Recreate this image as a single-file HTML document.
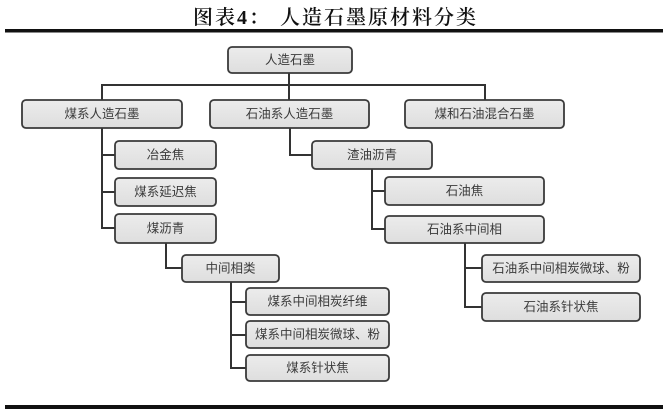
<!DOCTYPE html>
<html><head><meta charset="utf-8"><style>
html,body{margin:0;padding:0;background:#fff;}
body{width:672px;height:412px;overflow:hidden;}
svg{display:block;}
.t{font-family:"Liberation Sans","Noto Sans CJK SC",sans-serif;font-size:12.5px;fill:#3a3a3a;}
.ti{font-family:"Liberation Serif","Noto Serif CJK SC",serif;font-size:20px;fill:#111;font-weight:600;}
</style></head><body>
<svg width="672" height="412" viewBox="0 0 672 412" xmlns="http://www.w3.org/2000/svg">
<defs>
<linearGradient id="g" x1="0" y1="0" x2="0" y2="1">
<stop offset="0" stop-color="#ececec"/><stop offset="1" stop-color="#dedede"/>
</linearGradient>
</defs>
<rect x="0" y="0" width="672" height="412" fill="#fff"/>
<text class="ti" x="193" y="24" letter-spacing="2">图表4：</text>
<text class="ti" x="280" y="24" letter-spacing="2">人造石墨原材料分类</text>
<rect x="5" y="29" width="658" height="3.5" fill="#111"/>
<rect x="5" y="405" width="658" height="4" fill="#111"/>

<g stroke="#333" stroke-width="2" fill="none">
<path d="M289 73V100"/>
<path d="M102 100V85H485V100"/>
<path d="M102 128V228H115M102 155H115M102 192H115"/>
<path d="M166 243V268H182"/>
<path d="M231 282V368H246M231 302H246M231 335H246"/>
<path d="M290 128V155H312"/>
<path d="M372 169V229H385M372 191H385"/>
<path d="M465 243V307H482M465 268H482"/>
</g>

<g stroke="#3a3a3a" stroke-width="1.8" fill="url(#g)">
<rect x="228" y="47" width="124" height="26" rx="4"/>
<rect x="22" y="100" width="160" height="28" rx="4"/>
<rect x="210" y="100" width="159" height="28" rx="4"/>
<rect x="405" y="100" width="159" height="28" rx="4"/>
<rect x="115" y="141" width="101" height="28" rx="4"/>
<rect x="115" y="178" width="101" height="28" rx="4"/>
<rect x="115" y="214" width="101" height="29" rx="4"/>
<rect x="182" y="255" width="97" height="27" rx="4"/>
<rect x="246" y="288" width="143" height="27" rx="4"/>
<rect x="246" y="321" width="143" height="27" rx="4"/>
<rect x="246" y="355" width="143" height="26" rx="4"/>
<rect x="312" y="141" width="120" height="28" rx="4"/>
<rect x="385" y="177" width="159" height="28" rx="4"/>
<rect x="385" y="216" width="159" height="27" rx="4"/>
<rect x="482" y="255" width="158" height="27" rx="4"/>
<rect x="482" y="293" width="158" height="28" rx="4"/>
</g>

<g class="t" text-anchor="middle" dominant-baseline="central">
<text x="290" y="60">人造石墨</text>
<text x="102" y="114">煤系人造石墨</text>
<text x="289.5" y="114">石油系人造石墨</text>
<text x="484.5" y="114">煤和石油混合石墨</text>
<text x="165.5" y="155">冶金焦</text>
<text x="165.5" y="192">煤系延迟焦</text>
<text x="165.5" y="228.5">煤沥青</text>
<text x="230.5" y="268.5">中间相类</text>
<text x="317.5" y="301.5">煤系中间相炭纤维</text>
<text x="317.5" y="334.5">煤系中间相炭微球、粉</text>
<text x="317.5" y="368">煤系针状焦</text>
<text x="372" y="155">渣油沥青</text>
<text x="464.5" y="191">石油焦</text>
<text x="464.5" y="229.5">石油系中间相</text>
<text x="561" y="268.5">石油系中间相炭微球、粉</text>
<text x="561" y="307">石油系针状焦</text>
</g>
</svg>
</body></html>
